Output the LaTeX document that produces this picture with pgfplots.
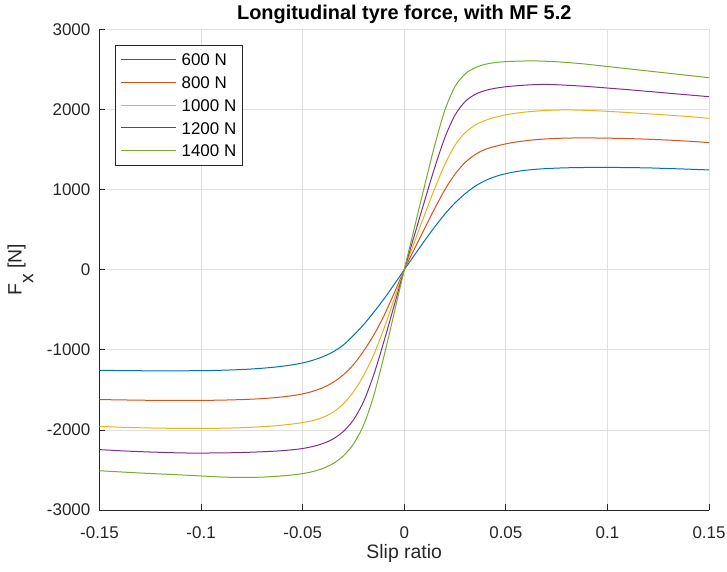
\documentclass[border=0pt]{standalone}
\usepackage{fontspec}
\setmainfont{Liberation Sans}
\usepackage{pgfplots}
\usepackage{pgfplotstable}
\pgfplotsset{compat=1.18}

\definecolor{mblue}{rgb}{0,0.447,0.741}
\definecolor{morange}{rgb}{0.850,0.325,0.098}
\definecolor{myellow}{rgb}{0.929,0.694,0.125}
\definecolor{mpurple}{rgb}{0.494,0.184,0.556}
\definecolor{mgreen}{rgb}{0.466,0.674,0.188}
\definecolor{axc}{gray}{0.15}
\definecolor{gridc}{gray}{0.875}

% Longitudinal force Fx [N] against slip ratio, for five vertical loads
\pgfplotstableread{
s       f600   f800   f1000  f1200  f1400
-0.150  -1255  -1621  -1956  -2246  -2510
-0.145  -1257  -1623  -1961  -2253  -2517
-0.140  -1259  -1625  -1966  -2260  -2524
-0.135  -1260  -1627  -1970  -2266  -2531
-0.130  -1261  -1629  -1973  -2271  -2538
-0.125  -1262  -1630  -1976  -2276  -2544
-0.120  -1262  -1631  -1978  -2280  -2550
-0.115  -1262  -1632  -1980  -2284  -2556
-0.110  -1262  -1632  -1981  -2287  -2562
-0.105  -1261  -1632  -1982  -2289  -2568
-0.100  -1260  -1631  -1982  -2289  -2575
-0.095  -1258  -1630  -1981  -2288  -2582
-0.090  -1255  -1628  -1979  -2287  -2588
-0.085  -1251  -1625  -1976  -2285  -2592
-0.080  -1246  -1621  -1972  -2282  -2594
-0.075  -1239  -1616  -1967  -2278  -2593
-0.070  -1230  -1609  -1960  -2273  -2589
-0.065  -1219  -1600  -1951  -2267  -2583
-0.060  -1205  -1588  -1940  -2259  -2574
-0.055  -1187  -1572  -1926  -2248  -2562
-0.050  -1163  -1550  -1908  -2232  -2545
-0.045  -1130  -1518  -1883  -2207  -2520
-0.040  -1085  -1472  -1843  -2170  -2480
-0.035  -1025  -1406  -1778  -2112  -2420
-0.030  -940   -1313  -1675  -2020  -2325
-0.025  -820   -1185  -1525  -1875  -2175
-0.020  -685   -1015  -1320  -1645  -1940
-0.015  -530   -815   -1060  -1310  -1570
-0.010  -365   -575   -735   -895   -1080
-0.005  -185   -295   -370   -450   -545
0.000   0      0      0      0      0
0.005   182    260    345    430    525
0.010   362    515    685    858    1047
0.015   535    765    1015   1276   1555
0.020   695    1000   1315   1651   1993
0.025   835    1195   1555   1931   2288
0.030   950    1340   1712   2101   2446
0.035   1045   1440   1808   2191   2524
0.040   1115   1505   1866   2239   2566
0.045   1165   1542   1905   2267   2588
0.050   1200   1572   1935   2285   2599
0.055   1225   1595   1955   2297   2604
0.060   1243   1612   1970   2306   2607
0.065   1255   1625   1981   2312   2607
0.070   1263   1634   1989   2314   2603
0.075   1269   1640   1994   2310   2597
0.080   1273   1644   1996   2304   2588
0.085   1276   1646   1994   2297   2578
0.090   1277   1646   1990   2289   2566
0.095   1278   1645   1985   2279   2552
0.100   1278   1643   1978   2269   2538
0.105   1277   1641   1971   2259   2524
0.110   1276   1638   1963   2249   2510
0.115   1274   1634   1955   2238   2496
0.120   1272   1630   1947   2227   2482
0.125   1268   1625   1939   2216   2468
0.130   1264   1619   1931   2205   2454
0.135   1260   1612   1922   2194   2440
0.140   1256   1605   1913   2183   2426
0.145   1251   1597   1902   2172   2412
0.150   1247   1588   1891   2161   2398
}\fxdata

\begin{document}
\begin{tikzpicture}
\begin{axis}[
  name=ax,
  scale only axis,
  width=609.5bp, height=480.5bp,
  xmin=-0.15, xmax=0.15, ymin=-3000, ymax=3000,
  xtick={-0.15,-0.1,-0.05,0,0.05,0.1,0.15},
  xticklabels={-0.15,-0.1,-0.05,0,0.05,0.1,0.15},
  ytick={-3000,-2000,-1000,0,1000,2000,3000},
  yticklabels={-3000,-2000,-1000,0,1000,2000,3000},
  axis x line*=bottom, axis y line*=left,
  axis line style={-, draw=axc, line width=0.7bp},
  tick align=inside, major tick length=6bp,
  tick style={draw=axc, line width=0.7bp},
  grid=major,
  major grid style={draw=gridc, line width=0.7bp},
  ticklabel style={font=\fontsize{17}{17}\selectfont, text=axc},
  xticklabel style={anchor=north, inner sep=0pt, yshift=-16bp},
  yticklabel style={anchor=east, inner sep=0pt, xshift=-9bp},
  xlabel={Slip ratio},
  xlabel style={at={(axis description cs:0.5,-0.101)}, anchor=base,
    font=\fontsize{19.5}{19.5}\selectfont, text=axc},
  ylabel={F\raisebox{-0.6em}{x} [N]},
  ylabel style={at={(axis description cs:-0.1276,0.5)}, anchor=base, rotate=0,
    font=\fontsize{19.5}{19.5}\selectfont, text=axc},
  title={Longitudinal tyre force, with MF 5.2},
  title style={at={(axis description cs:0.5,1)}, anchor=base, yshift=4.5bp,
    font=\bfseries\fontsize{20}{20}\selectfont, text=black},
  legend style={at={(0,1)}, anchor=north west, xshift=15.5bp, yshift=-15.5bp,
    draw=axc, line width=0.7bp, fill=white,
    font=\fontsize{17}{17}\selectfont, text=black,
    inner xsep=5.6bp, inner ysep=8.4bp, row sep=10.5bp, column sep=4.7bp,
    nodes={inner sep=0pt, text height=12.2bp, text depth=0bp}},
  legend cell align=left,
  legend image code/.code={\draw[#1, line width=1bp] (0bp,0bp) -- (55bp,0bp);},
  every axis plot/.append style={line width=1bp, smooth, tension=0.5},
]
\addplot[mblue]   table[x=s, y=f600]  {\fxdata};
\addplot[morange] table[x=s, y=f800]  {\fxdata};
\addplot[myellow] table[x=s, y=f1000] {\fxdata};
\addplot[mpurple] table[x=s, y=f1200] {\fxdata};
\addplot[mgreen]  table[x=s, y=f1400] {\fxdata};
\legend{600 N, 800 N, 1000 N, 1200 N, 1400 N}
\end{axis}
\path ([xshift=-99.5bp,yshift=-62bp]ax.south west)
  rectangle ([xshift=18bp,yshift=29.5bp]ax.north east);
\end{tikzpicture}
\end{document}
